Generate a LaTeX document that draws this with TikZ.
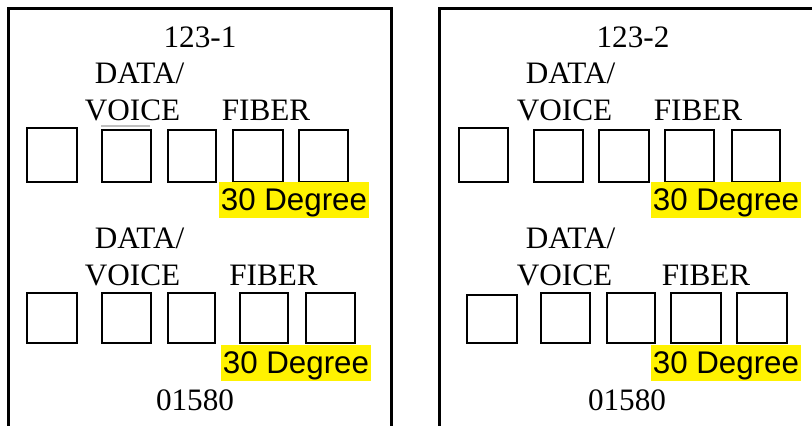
\documentclass[tikz,border=0pt]{standalone}
\usepackage{fontspec}
\setmainfont{Liberation Serif}
\newfontfamily\arialf{Liberation Sans}
\begin{document}
\begin{tikzpicture}[x=1pt,y=-1pt,
  lbl/.style={inner sep=0pt,anchor=base,font=\fontsize{31.2}{36}\selectfont},
  hilite/.style={inner sep=0pt,anchor=base,fill=yellow,minimum width=150pt,text height=28pt,text depth=8pt,font=\arialf\fontsize{31.3}{36}\selectfont},
  portbox/.style={draw,line width=1.8pt,inner sep=0pt},
  panel/.style={line width=3pt}]
\useasboundingbox (0,0) rectangle (812,426);
\fill[white] (0,0) rectangle (812,426);
% panels
\draw[panel] (8,430) -- (8,8) -- (391,8) -- (391,430);
\draw[panel] (439,430) -- (439,8) -- (816,8);
% ---- left panel
\node[lbl] (t1) at (200,47) {123-1};
\node[lbl] (d1) at (139.5,83) {DATA/};
\node[lbl] (v1) at (132.5,120) {VOICE};
\node[lbl] (f1) at (266,120) {FIBER};
\node[portbox,minimum width=50pt,minimum height=54pt] (a1) at (52,155) {};
\node[portbox,minimum width=49pt,minimum height=52pt] (a2) at (126.5,156) {};
\node[portbox,minimum width=48pt,minimum height=52pt] (a3) at (192,156) {};
\node[portbox,minimum width=50pt,minimum height=52pt] (a4) at (258,156) {};
\node[portbox,minimum width=49pt,minimum height=52pt] (a5) at (323.5,156) {};
\draw[gray!50,line width=1.8pt] (a2.north west) ++(0,-3) -- ++(49,0);
\node[hilite] (g1) at (294,210) {30 Degree};
\node[lbl] (d2) at (139.5,248) {DATA/};
\node[lbl] (v2) at (132.5,285) {VOICE};
\node[lbl] (f2) at (273.5,285) {FIBER};
\node[portbox,minimum width=50pt,minimum height=50pt] (b1) at (52,318) {};
\node[portbox,minimum width=49pt,minimum height=50pt] (b2) at (126.5,318) {};
\node[portbox,minimum width=47pt,minimum height=50pt] (b3) at (191.5,318) {};
\node[portbox,minimum width=48pt,minimum height=50pt] (b4) at (264,318) {};
\node[portbox,minimum width=49pt,minimum height=50pt] (b5) at (330.5,318) {};
\node[hilite] (g2) at (296,373) {30 Degree};
\node[lbl] (n1) at (195,410) {01580};
% ---- right panel
\node[lbl] (t2) at (633,47) {123-2};
\node[lbl] (d3) at (570.5,83) {DATA/};
\node[lbl] (v3) at (564.5,120) {VOICE};
\node[lbl] (f3) at (698,120) {FIBER};
\node[portbox,minimum width=49pt,minimum height=54pt] (c1) at (483.5,155) {};
\node[portbox,minimum width=49pt,minimum height=52pt] (c2) at (558.5,156) {};
\node[portbox,minimum width=50pt,minimum height=52pt] (c3) at (624,156) {};
\node[portbox,minimum width=49pt,minimum height=52pt] (c4) at (689.5,156) {};
\node[portbox,minimum width=48pt,minimum height=52pt] (c5) at (756,156) {};
\node[hilite] (g3) at (726,210) {30 Degree};
\node[lbl] (d4) at (570.5,248) {DATA/};
\node[lbl] (v4) at (564.5,285) {VOICE};
\node[lbl] (f4) at (706,285) {FIBER};
\node[portbox,minimum width=50pt,minimum height=48pt] (e1) at (492,319) {};
\node[portbox,minimum width=49pt,minimum height=50pt] (e2) at (565.5,318) {};
\node[portbox,minimum width=48pt,minimum height=50pt] (e3) at (631,318) {};
\node[portbox,minimum width=50pt,minimum height=50pt] (e4) at (696,318) {};
\node[portbox,minimum width=50pt,minimum height=50pt] (e5) at (762,318) {};
\node[hilite] (g4) at (726,373) {30 Degree};
\node[lbl] (n2) at (627,410) {01580};
\end{tikzpicture}
\end{document}
